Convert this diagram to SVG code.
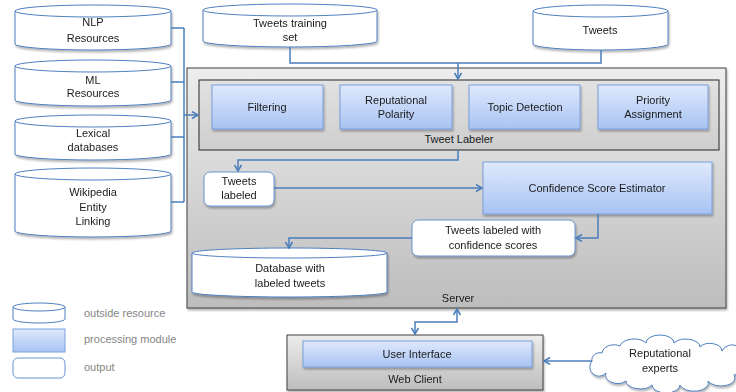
<svg xmlns="http://www.w3.org/2000/svg" width="736" height="392" viewBox="0 0 736 392">
<defs>
<linearGradient id="gBlue" x1="0" y1="0" x2="0" y2="1"><stop offset="0" stop-color="#dfe9fc"/><stop offset="1" stop-color="#a8c3f3"/></linearGradient>
<linearGradient id="gGray" x1="0" y1="0" x2="0" y2="1"><stop offset="0" stop-color="#ededed"/><stop offset="1" stop-color="#bdbdbd"/></linearGradient>
<linearGradient id="gGray2" x1="0" y1="0" x2="0" y2="1"><stop offset="0" stop-color="#e2e2e2"/><stop offset="1" stop-color="#cecece"/></linearGradient>
<filter id="sh" x="-10%" y="-10%" width="130%" height="140%"><feDropShadow dx="1" dy="2" stdDeviation="1" flood-color="#000" flood-opacity="0.3"/></filter>
<marker id="ar" markerWidth="10" markerHeight="10" refX="7" refY="4" orient="auto-start-reverse" markerUnits="userSpaceOnUse"><path d="M1,0.5 L7,4 L1,7.5" fill="none" stroke="#4a7ebb" stroke-width="1.5"/></marker>
<style>
.cyl{fill:#fff;stroke:#4f7fbf;stroke-width:1}
.mod{fill:url(#gBlue);stroke:#7aa0dc;stroke-width:1}
.out{fill:#fff;stroke:#6a94d0;stroke-width:1}
.con{fill:none;stroke:#4a7ebb;stroke-width:1.5}
text{font-family:"Liberation Sans",Arial,sans-serif;font-size:11px;fill:#1a1a1a;text-anchor:middle}
.leg{fill:#858585;text-anchor:start}
</style>
</defs>

<g id="server" filter="url(#sh)">
<rect x="187" y="68" width="539" height="240" fill="url(#gGray)" stroke="#404040" stroke-width="1"/>
<text x="458" y="302">Server</text>
</g>
<g id="tweet-labeler">
<rect x="199" y="80" width="520" height="70" fill="url(#gGray2)" stroke="#262626" stroke-width="1"/>
<text x="459" y="143">Tweet Labeler</text>
</g>

<g id="filtering" filter="url(#sh)"><rect class="mod" x="212" y="85" width="111" height="44"/><text x="267" y="111">Filtering</text></g>
<g id="polarity" filter="url(#sh)"><rect class="mod" x="340" y="85" width="112" height="44"/><text x="396" y="104">Reputational</text><text x="396" y="118">Polarity</text></g>
<g id="topic" filter="url(#sh)"><rect class="mod" x="469" y="85" width="111" height="44"/><text x="525" y="111">Topic Detection</text></g>
<g id="priority" filter="url(#sh)"><rect class="mod" x="598" y="85" width="110" height="44"/><text x="653" y="104">Priority</text><text x="653" y="118">Assignment</text></g>

<g id="nlp" filter="url(#sh)"><path class="cyl" d="M15,11 V44 A78,6 0 0 0 171,44 V11 Z"/><ellipse class="cyl" cx="93" cy="11" rx="78" ry="6"/><text x="93" y="26">NLP</text><text x="93" y="42">Resources</text></g>
<g id="ml" filter="url(#sh)"><path class="cyl" d="M15,66 V100 A78,6 0 0 0 171,100 V66 Z"/><ellipse class="cyl" cx="93" cy="66" rx="78" ry="6"/><text x="93" y="84">ML</text><text x="93" y="97">Resources</text></g>
<g id="lexical" filter="url(#sh)"><path class="cyl" d="M15,121 V154 A78,6 0 0 0 171,154 V121 Z"/><ellipse class="cyl" cx="93" cy="121" rx="78" ry="6"/><text x="93" y="137">Lexical</text><text x="93" y="151">databases</text></g>
<g id="wikipedia" filter="url(#sh)"><path class="cyl" d="M15,174 V231 A78,6 0 0 0 171,231 V174 Z"/><ellipse class="cyl" cx="93" cy="174" rx="78" ry="6"/><text x="93" y="196">Wikipedia</text><text x="93" y="211">Entity</text><text x="93" y="225">Linking</text></g>
<g id="training" filter="url(#sh)"><path class="cyl" d="M203,10 V41 A87,6 0 0 0 377,41 V10 Z"/><ellipse class="cyl" cx="290" cy="10" rx="87" ry="6"/><text x="290" y="27">Tweets training</text><text x="290" y="41">set</text></g>
<g id="tweets" filter="url(#sh)"><path class="cyl" d="M533,11 V44 A67.5,6 0 0 0 668,44 V11 Z"/><ellipse class="cyl" cx="600.5" cy="11" rx="67.5" ry="6"/><text x="600" y="34">Tweets</text></g>
<g id="database" filter="url(#sh)"><path class="cyl" d="M192,253 V292 A97.5,5 0 0 0 387,292 V253 Z"/><ellipse class="cyl" cx="289.5" cy="253" rx="97.5" ry="5"/><text x="290" y="272">Database with</text><text x="290" y="287">labeled tweets</text></g>

<g id="tweets-labeled" filter="url(#sh)"><rect class="out" x="204" y="172" width="70" height="34" rx="6"/><text x="239" y="185">Tweets</text><text x="239" y="199">labeled</text></g>
<g id="cse" filter="url(#sh)"><rect class="mod" x="483" y="162" width="229" height="52"/><text x="597" y="192">Confidence Score Estimator</text></g>
<g id="tweets-scores" filter="url(#sh)"><rect class="out" x="412" y="220" width="163" height="36" rx="6"/><text x="493" y="234">Tweets labeled with</text><text x="493" y="249">confidence scores</text></g>

<g id="web-client" filter="url(#sh)"><rect x="287" y="335" width="256" height="55" fill="url(#gGray)" stroke="#404040" stroke-width="1"/><text x="415" y="383">Web Client</text></g>
<g id="ui" filter="url(#sh)"><rect class="mod" x="303" y="341" width="229" height="26"/><text x="417" y="358">User Interface</text></g>

<g id="experts" filter="url(#sh)"><path d="M592,361 a8,7 0 0 1 10,-8 a12,9 0 0 1 18,-7 a14,8 0 0 1 26,-3 a14,8 0 0 1 28,0 a14,8 0 0 1 26,4 a12,8 0 0 1 22,4 a10,10 0 0 1 20,10 a10,10 0 0 1 -8,14 a14,8 0 0 1 -26,6 a14,8 0 0 1 -28,4 a14,8 0 0 1 -28,0 a14,8 0 0 1 -26,-4 a12,8 0 0 1 -20,-8 a8,8 0 0 1 -14,-12 Z" fill="#fff" stroke="#4f7fbf" stroke-width="1"/><text x="660" y="357">Reputational</text><text x="660" y="372">experts</text></g>

<g id="legend">
<path class="cyl" d="M13,307 V319 A26,4 0 0 0 65,319 V307 Z"/><ellipse class="cyl" cx="39" cy="307" rx="26" ry="4"/>
<rect class="mod" x="13" y="329" width="52" height="23"/>
<rect class="out" x="13" y="358" width="52" height="20" rx="5"/>
<text class="leg" x="84" y="317">outside resource</text>
<text class="leg" x="84" y="343">processing module</text>
<text class="leg" x="84" y="371">output</text>
</g>

<g id="connectors">
<path class="con" d="M171,28 H184 M171,82 H184 M171,137 H184 M171,202 H184 M184,28 V202"/>
<path class="con" d="M184,115 H198" marker-end="url(#ar)"/>
<path class="con" d="M290,47 V63 H601 V50"/>
<path class="con" d="M458,63 V79" marker-end="url(#ar)"/>
<path class="con" d="M458,150 V160 H238 V171" marker-end="url(#ar)"/>
<path class="con" d="M274,188 H482" marker-end="url(#ar)"/>
<path class="con" d="M598,214 V238 H576" marker-end="url(#ar)"/>
<path class="con" d="M412,238 H289 V248" marker-end="url(#ar)"/>
<path class="con" d="M415,334 V322 H457 V309" marker-start="url(#ar)" marker-end="url(#ar)"/>
<path class="con" d="M592,361 H544" marker-end="url(#ar)"/>
</g>
</svg>
